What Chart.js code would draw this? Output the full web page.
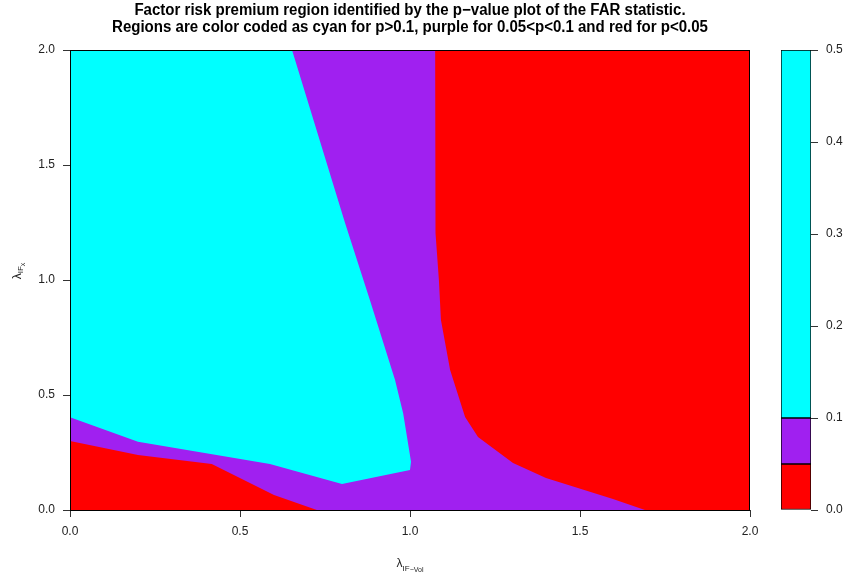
<!DOCTYPE html>
<html>
<head>
<meta charset="utf-8">
<script src="https://cdn.jsdelivr.net/npm/chart.js@4.4.1/dist/chart.umd.min.js"></script>
<style>
  html, body { margin: 0; padding: 0; background: #fff; }
  #wrap { position: relative; width: 845px; height: 575px; }
  #main { position: absolute; left: 0; top: 0; }
  #bar { position: absolute; left: 760px; top: 0; }
</style>
</head>
<body>
<div id="wrap">
  <canvas id="main" width="845" height="575"></canvas>
  <canvas id="bar" width="85" height="575"></canvas>
</div>
<script>
const TITLE_LINES = [
  'Factor risk premium region identified by the p\u2212value plot of the FAR statistic.',
  'Regions are color coded as cyan for p>0.1, purple for 0.05<p<0.1 and red for p<0.05',
];
const X_TICKS = [0, 0.5, 1, 1.5, 2];
const Y_TICKS = [0, 0.5, 1, 1.5, 2];
const LEVEL_TICKS = [0, 0.1, 0.2, 0.3, 0.4, 0.5];
const LEVEL_BREAKS = [0, 0.05, 0.1, 0.5];
const LEVEL_COLORS = ['#ff0000', '#a020f0', '#00ffff'];

// region outlines (x = lambda IF-Vol, y = lambda IF-x)
const purpleX = [0, 2, 2, 0];
const purpleY = [0, 0, 2, 2];
const cyanX = [0, 0.653, 0.809, 0.882, 0.956, 0.98, 1.003, 1.0, 0.8, 0.588, 0.2, 0];
const cyanY = [2, 2, 1.248, 0.913, 0.565, 0.42, 0.21, 0.174, 0.113, 0.2, 0.297, 0.403];
const redLowX = [0, 0, 0.2, 0.417, 0.6, 0.726];
const redLowY = [0, 0.3, 0.239, 0.2, 0.065, 0];
const redHighX = [1.074, 1.074, 1.076, 1.085, 1.091, 1.118, 1.162, 1.2, 1.303, 1.4, 1.597, 1.691, 2, 2];
const redHighY = [2, 1.391, 1.204, 1.0, 0.826, 0.609, 0.404, 0.317, 0.204, 0.139, 0.048, 0, 0, 2];

const FONT = 'Liberation Sans, Arial, Helvetica, sans-serif';

function region(xs, ys, color) {
  return {
    data: xs.map((x, i) => ({ x, y: ys[i] })),
    showLine: true,
    fill: 'shape',
    backgroundColor: color,
    borderColor: color,
    borderWidth: 0,
    pointRadius: 0,
    tension: 0,
  };
}

// draw text runs with sub/subsub scripts, centered on cx
function drawRuns(ctx, runs, cx, base) {
  let w = 0;
  runs.forEach((r) => { ctx.font = `${r.size}px ${FONT}`; w += ctx.measureText(r.t).width; });
  let x = cx - w / 2;
  ctx.textAlign = 'left';
  ctx.textBaseline = 'alphabetic';
  runs.forEach((r) => {
    ctx.font = `${r.size}px ${FONT}`;
    ctx.fillText(r.t, x, base + r.dy);
    x += ctx.measureText(r.t).width;
  });
}

const decorations = {
  id: 'decorations',
  afterDraw(chart) {
    const { ctx, chartArea: a } = chart;
    ctx.save();
    ctx.strokeStyle = '#000';
    ctx.lineWidth = 1;
    ctx.strokeRect(Math.round(a.left) + 0.5, Math.round(a.top) + 0.5, Math.round(a.right - a.left) - 1, Math.round(a.bottom - a.top));

    // title: helvetica bold runs a bit narrower than liberation, squeeze slightly
    ctx.fillStyle = '#000';
    ctx.font = `bold 16px ${FONT}`;
    ctx.textAlign = 'center';
    ctx.textBaseline = 'alphabetic';
    const cx = (a.left + a.right) / 2;
    TITLE_LINES.forEach((line, i) => {
      const w = ctx.measureText(line).width * 0.94;
      ctx.fillText(line, cx, 15 + i * 17, w);
    });

    ctx.fillStyle = '#222';
    drawRuns(ctx, [
      { t: '\u03bb', size: 12, dy: 0 },
      { t: 'IF', size: 8, dy: 4 },
      { t: '\u2212Vol', size: 7, dy: 5 },
    ], cx, 567);

    ctx.translate(21, 271);
    ctx.rotate(-Math.PI / 2);
    drawRuns(ctx, [
      { t: '\u03bb', size: 12, dy: 0 },
      { t: 'IF', size: 8, dy: 2 },
      { t: 'x', size: 7, dy: 4 },
    ], 0, 0);
    ctx.restore();
  },
};

const tickFont = { family: FONT, size: 12 };

new Chart(document.getElementById('main'), {
  type: 'scatter',
  data: {
    datasets: [
      region(purpleX, purpleY, LEVEL_COLORS[1]),
      region(cyanX, cyanY, LEVEL_COLORS[2]),
      region(redLowX, redLowY, LEVEL_COLORS[0]),
      region(redHighX, redHighY, LEVEL_COLORS[0]),
    ].map((d, i) => ({ ...d, order: 10 - i })),
  },
  options: {
    responsive: false,
    animation: false,
    layout: { padding: { top: 50, right: 95, left: 0, bottom: 0 } },
    plugins: { legend: { display: false }, tooltip: { enabled: false } },
    scales: {
      x: {
        type: 'linear', min: 0, max: 2,
        afterBuildTicks: (s) => { s.ticks = X_TICKS.map((v) => ({ value: v })); },
        afterFit: (s) => { s.height = 65; },
        grid: { drawOnChartArea: false, drawTicks: true, tickLength: 7, color: '#333' },
        border: { display: false },
        ticks: { color: '#222', font: tickFont, padding: 7, maxRotation: 0, callback: (v) => Number(v).toFixed(1) },
      },
      y: {
        type: 'linear', min: 0, max: 2,
        afterBuildTicks: (s) => { s.ticks = Y_TICKS.map((v) => ({ value: v })); },
        afterFit: (s) => { s.width = 70; },
        grid: { drawOnChartArea: false, drawTicks: true, tickLength: 7, color: '#333' },
        border: { display: false },
        ticks: { color: '#222', font: tickFont, padding: 8, callback: (v) => Number(v).toFixed(1) },
      },
    },
  },
  plugins: [decorations],
});

new Chart(document.getElementById('bar'), {
  type: 'bar',
  data: {
    labels: [''],
    datasets: LEVEL_COLORS.map((c, i) => ({
      data: [[LEVEL_BREAKS[i], LEVEL_BREAKS[i + 1]]],
      backgroundColor: c,
      borderColor: '#000',
      borderWidth: 1,
      borderSkipped: false,
      grouped: false,
      categoryPercentage: 1,
      barPercentage: 1,
    })),
  },
  options: {
    responsive: false,
    animation: false,
    layout: { padding: { left: 21, top: 50, bottom: 65, right: 0 } },
    plugins: { legend: { display: false }, tooltip: { enabled: false } },
    scales: {
      x: { display: false },
      y: {
        position: 'right', min: 0, max: 0.5,
        afterBuildTicks: (s) => { s.ticks = LEVEL_TICKS.map((v) => ({ value: v })); },
        afterFit: (s) => { s.width = 34; },
        grid: { drawOnChartArea: false, drawTicks: true, tickLength: 7, color: '#333' },
        border: { display: false },
        ticks: { color: '#222', font: tickFont, padding: 8, callback: (v) => Number(v).toFixed(1) },
      },
    },
  },
});
</script>
</body>
</html>
